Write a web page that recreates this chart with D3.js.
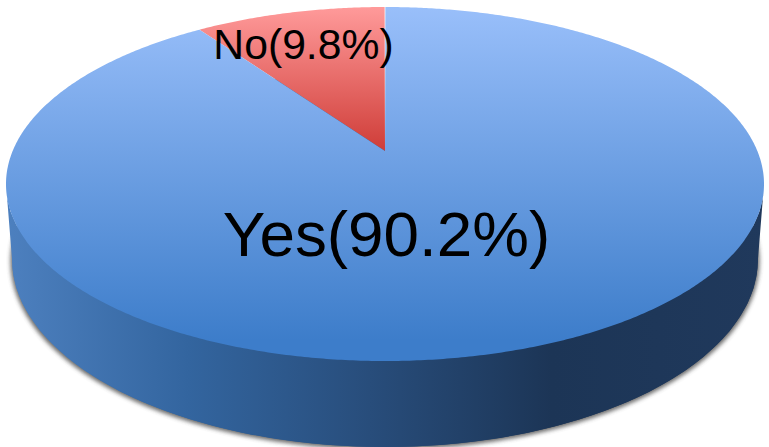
<!DOCTYPE html>
<html>
<head>
<meta charset="utf-8">
<script src="https://cdnjs.cloudflare.com/ajax/libs/d3/7.8.5/d3.min.js"></script>
<style>
html,body{margin:0;padding:0;background:#fff;overflow:hidden}
svg{display:block}
text{font-family:"Liberation Sans",Arial,sans-serif;fill:#000}
</style>
</head>
<body>
<svg id="chart" width="769" height="447"></svg>
<script>
const categories = ["No", "Yes"];
const percentages = [9.8, 90.2];
const labelTexts = ["No(9.8%)", "Yes(90.2%)"];
const sliceColors = [["#ff9a9a", "#cf3d38"], ["#99bffa", "#3d7dca"]];
const wallStops = [[0, "#4d80bf"], [0.24, "#33659f"], [0.5, "#274b78"], [0.72, "#1c3556"], [1, "#20395c"]];

const W = 769, H = 447;
const svg = d3.select("#chart");
const top_ = {cx: 385, cy: 184, rx: 379, ry: 177};
const bottom = {cx: 385, cy: 259, rx: 373, ry: 188};
const apex = {x: 385, y: 151};
const squash = 0.463;

const defs = svg.append("defs");
const blur = defs.append("filter").attr("id", "shadow").attr("x", "-5%").attr("y", "-5%").attr("width", "110%").attr("height", "110%");
blur.append("feGaussianBlur").attr("stdDeviation", 2);

const wallGrad = defs.append("linearGradient").attr("id", "wall")
  .attr("gradientUnits", "userSpaceOnUse").attr("x1", 6).attr("x2", 764).attr("y1", 0).attr("y2", 0);
wallStops.forEach(s => wallGrad.append("stop").attr("offset", s[0]).attr("stop-color", s[1]));

const seamGrad = defs.append("linearGradient").attr("id", "seam")
  .attr("gradientUnits", "userSpaceOnUse").attr("x1", 0).attr("x2", 0)
  .attr("y1", top_.cy - top_.ry).attr("y2", apex.y);
seamGrad.append("stop").attr("offset", 0).attr("stop-color", "#fff").attr("stop-opacity", 0.75);
seamGrad.append("stop").attr("offset", 0.5).attr("stop-color", "#fff").attr("stop-opacity", 0.45);
seamGrad.append("stop").attr("offset", 1).attr("stop-color", "#fff").attr("stop-opacity", 0);

const pie = d3.pie().sort(null).value(d => d)
  .startAngle(-2 * Math.PI * percentages[0] / 100)
  .endAngle(2 * Math.PI - 2 * Math.PI * percentages[0] / 100);
const arcs = pie(percentages);

// ray from the foreshortened pie apex to the rim of the top ellipse
function rim(a) {
  const dx = Math.sin(a), dy = -squash * Math.cos(a);
  const ox = apex.x - top_.cx, oy = apex.y - top_.cy;
  const A = dx * dx / (top_.rx * top_.rx) + dy * dy / (top_.ry * top_.ry);
  const B = 2 * (ox * dx / (top_.rx * top_.rx) + oy * dy / (top_.ry * top_.ry));
  const C = ox * ox / (top_.rx * top_.rx) + oy * oy / (top_.ry * top_.ry) - 1;
  const t = (-B + Math.sqrt(B * B - 4 * A * C)) / (2 * A);
  return [apex.x + t * dx, apex.y + t * dy];
}
const line = d3.line().curve(d3.curveLinear);
function slicePath(d) {
  const n = Math.max(12, Math.ceil((d.endAngle - d.startAngle) * 120));
  const pts = [[apex.x, apex.y]];
  d3.range(n + 1).forEach(i => pts.push(rim(d.startAngle + (d.endAngle - d.startAngle) * i / n)));
  return line(pts) + "Z";
}

// drop shadow and side wall
const wallPath = (function () {
  const lowerTop = d3.range(0, 41).map(i => {
    const t = Math.PI * i / 40;
    return [top_.cx + top_.rx * Math.cos(t), top_.cy + top_.ry * Math.sin(t)];
  });
  const lowerBottom = d3.range(0, 41).map(i => {
    const t = Math.PI * i / 40;
    return [bottom.cx + bottom.rx * Math.cos(t), bottom.cy + bottom.ry * Math.sin(t)];
  });
  return line(lowerTop.concat(lowerBottom.reverse())) + "Z";
})();
svg.append("ellipse").attr("cx", bottom.cx).attr("cy", bottom.cy + 2).attr("rx", bottom.rx + 1.5).attr("ry", bottom.ry + 0.5)
  .attr("fill", "#444").attr("opacity", 0.8).attr("filter", "url(#shadow)");
svg.append("ellipse").attr("cx", bottom.cx).attr("cy", bottom.cy).attr("rx", bottom.rx).attr("ry", bottom.ry).attr("fill", "url(#wall)");
svg.append("path").attr("d", wallPath).attr("fill", "url(#wall)");

// top face
arcs.forEach((d, i) => {
  const g = defs.append("linearGradient").attr("id", "face" + i)
    .attr("gradientUnits", "userSpaceOnUse").attr("x1", 0).attr("x2", 0)
    .attr("y1", top_.cy - top_.ry)
    .attr("y2", i === 0 ? apex.y : top_.cy + top_.ry - 21);
  g.append("stop").attr("offset", 0).attr("stop-color", sliceColors[i][0]);
  g.append("stop").attr("offset", 1).attr("stop-color", sliceColors[i][1]);
});
svg.selectAll("path.slice").data(arcs).join("path")
  .attr("class", "slice")
  .attr("data-category", (d, i) => categories[i])
  .attr("d", slicePath)
  .attr("fill", (d, i) => `url(#face${i})`);

// thin pale seam between the slices
const seamEnd = rim(arcs[1].startAngle);
svg.append("rect").attr("class", "seam")
  .attr("x", seamEnd[0] - 0.5).attr("y", seamEnd[1])
  .attr("width", 1).attr("height", apex.y - seamEnd[1])
  .attr("fill", "url(#seam)");

// labels
const labelX = [303.5, 386.5], labelY = [59, 256], labelSize = [42.7, 63.8];
svg.selectAll("text.label").data(labelTexts).join("text")
  .attr("class", "label")
  .attr("text-anchor", "middle")
  .attr("x", (d, i) => labelX[i]).attr("y", (d, i) => labelY[i])
  .attr("font-size", (d, i) => labelSize[i])
  .text(d => d);
</script>
</body>
</html>
